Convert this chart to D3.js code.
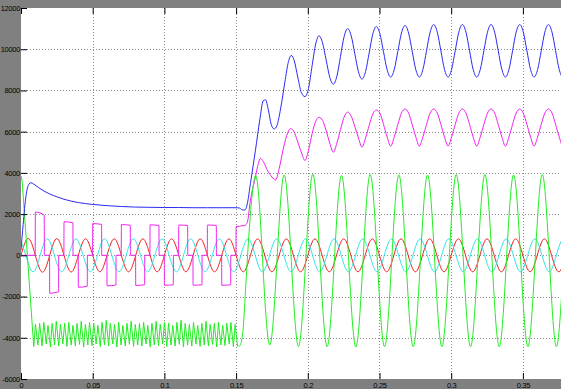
<!DOCTYPE html>
<html><head><meta charset="utf-8">
<script src="https://cdn.jsdelivr.net/npm/d3@7"></script>
<style>body{margin:0;background:#808080;} svg{display:block}</style>
</head><body>
<svg id="c" width="561" height="389"></svg>
<script>
// ---------- tick data ----------
const xTicks = [0, 0.05, 0.1, 0.15, 0.2, 0.25, 0.3, 0.35];
const xTickLabels = ["0", "0.05", "0.1", "0.15", "0.2", "0.25", "0.3", "0.35"];
const yTicks = [-6000, -4000, -2000, 0, 2000, 4000, 6000, 8000, 10000, 12000];
const yTickLabels = ["-6000", "-4000", "-2000", "0", "2000", "4000", "6000", "8000", "10000", "12000"];

// ---------- series data (time s, value) ----------
// red: sampled every 5 ms from t = 0
const redStart = 0, redDt = 0.005;
const redV = [0,820,0,-820, 0,810,0,-810, 0,800,0,-800, 0,800,0,-800, 0,800,0,-800,
  0,800,0,-800, 0,800,0,-800, 0,800,0,-800, 0,800,0,-800, 0,800,0,-800,
  0,800,0,-800, 0,800,0,-800, 0,800,0,-800, 0,800,0,-800, 0,800,0,-800,
  0,800,0,-800, 0,800,0,-800, 0,800,0,-800, 0,800,0,-800, 0];

// cyan: value at t=0, then sampled every 5 ms from 3.33 ms
const cyanFirst = [[0, 690]];
const cyanStart = 0.00333, cyanDt = 0.005;
const cyanV = [0,-800,0,800, 0,-800,0,800, 0,-800,0,800, 0,-800,0,800, 0,-800,0,800,
  0,-800,0,800, 0,-800,0,800, 0,-800,0,800, 0,-800,0,800, 0,-800,0,800,
  0,-800,0,800, 0,-800,0,800, 0,-800,0,800, 0,-800,0,800, 0,-800,0,800,
  0,-800,0,800, 0,-800,0,800, 0,-800,0,800, 0,-800,0,800, 0];

// blue
const blue = [
 [0,250],[0.0015,1500],[0.0035,2900],[0.0055,3450],[0.0068,3520],[0.009,3450],[0.012,3300],
 [0.016,3120],[0.02,2980],[0.025,2840],[0.03,2720],[0.035,2630],[0.04,2560],[0.045,2510],
 [0.05,2470],[0.06,2410],[0.07,2370],[0.08,2340],[0.09,2330],[0.1,2320],[0.11,2320],
 [0.12,2310],[0.13,2310],[0.14,2310],[0.15,2310],[0.1525,2290],[0.1545,2200],[0.1562,2200],
 [0.1578,2500],[0.160,3490],[0.1635,5100],[0.1665,6560],[0.1689,7500],[0.1705,7550],
 [0.1725,7050],[0.1745,6350],[0.1765,6130],[0.1785,6300],[0.181,7100],[0.184,8400],
 [0.1865,9400],[0.1885,9700],[0.1905,9450],[0.193,8650],[0.1955,7900],[0.198,7700],
 [0.2005,8100],[0.203,9200],[0.2055,10250],[0.2078,10650],
 [0.2103,10306],[0.2128,9475],[0.2153,8644],[0.2178,8300],
 [0.2203,8695],[0.2228,9650],[0.2253,10605],[0.2278,11000],
 [0.2303,10641],[0.2328,9775],[0.2353,8909],[0.2378,8550],
 [0.2403,8924],[0.2428,9825],[0.2453,10726],[0.2478,11100],
 [0.2503,10741],[0.2528,9875],[0.2553,9009],[0.2578,8650],
 [0.2603,9016],[0.2628,9900],[0.2653,10784],[0.2678,11150],
 [0.2703,10784],[0.2728,9900],[0.2753,9016],[0.2778,8650],
 [0.2803,9024],[0.2828,9925],[0.2853,10826],[0.2878,11200],
 [0.2903,10826],[0.2928,9925],[0.2953,9024],[0.2978,8650],
 [0.3003,9024],[0.3028,9925],[0.3053,10826],[0.3078,11200],
 [0.3103,10826],[0.3128,9925],[0.3153,9024],[0.3178,8650],
 [0.3203,9024],[0.3228,9925],[0.3253,10826],[0.3278,11200],
 [0.3303,10826],[0.3328,9925],[0.3353,9024],[0.3378,8650],
 [0.3403,9024],[0.3428,9925],[0.3453,10826],[0.3478,11200],
 [0.3503,10826],[0.3528,9925],[0.3553,9024],[0.3578,8650],
 [0.3603,9024],[0.3628,9925],[0.3653,10826],[0.3678,11200],
 [0.3703,10826],[0.3728,9925],[0.3753,9024],[0.3778,8650],[0.3803,9024]
];

// magenta
const magenta = [
 [0,0],[0.0099,0],[0.0100,2100],[0.0162,1950],[0.0163,0],[0.0199,0],[0.0200,-1840],[0.0262,-1770],[0.0263,0],
 [0.0299,0],[0.0300,1630],[0.0362,1580],[0.0363,0],[0.0399,0],[0.0400,-1550],[0.0462,-1500],[0.0463,0],
 [0.0499,0],[0.0500,1540],[0.0562,1500],[0.0563,0],[0.0599,0],[0.0600,-1480],[0.0662,-1440],[0.0663,0],
 [0.0699,0],[0.0700,1490],[0.0762,1460],[0.0763,0],[0.0799,0],[0.0800,-1460],[0.0862,-1430],[0.0863,0],
 [0.0899,0],[0.0900,1480],[0.0962,1450],[0.0963,0],[0.0999,0],[0.1000,-1450],[0.1062,-1430],[0.1063,0],
 [0.1099,0],[0.1100,1470],[0.1162,1450],[0.1163,0],[0.1199,0],[0.1200,-1450],[0.1262,-1430],[0.1263,0],
 [0.1299,0],[0.1300,1470],[0.1362,1450],[0.1363,0],[0.1399,0],[0.1400,-1450],[0.1462,-1430],[0.1463,0],
 [0.1499,0],[0.1500,1390],[0.1560,1450],[0.1578,1600],[0.160,2680],[0.1635,3810],[0.1655,4450],
 [0.167,4700],[0.169,4550],[0.172,4100],[0.175,3800],[0.1775,3650],[0.180,4200],[0.183,5200],
 [0.186,5950],[0.188,6150],[0.190,6050],[0.193,5500],[0.196,4900],[0.198,4600],[0.2005,5100],
 [0.203,5900],[0.2055,6500],[0.2078,6700],
 [0.2103,6550],[0.2128,6050],[0.2153,5450],[0.2178,5000],[0.2203,5450],[0.2228,6100],[0.2253,6700],[0.2278,6950],
 [0.2303,6750],[0.2328,6250],[0.2353,5700],[0.2378,5250],[0.2403,5700],[0.2428,6300],[0.2453,6850],[0.2478,7050],
 [0.2503,6900],[0.2528,6350],[0.2553,5750],[0.2578,5300],[0.2603,5750],[0.2628,6350],[0.2653,6900],[0.2678,7100],
 [0.2703,6900],[0.2728,6350],[0.2753,5750],[0.2778,5300],[0.2803,5750],[0.2828,6350],[0.2853,6900],[0.2878,7100],
 [0.2903,6900],[0.2928,6350],[0.2953,5750],[0.2978,5300],[0.3003,5750],[0.3028,6350],[0.3053,6900],[0.3078,7100],
 [0.3103,6900],[0.3128,6350],[0.3153,5750],[0.3178,5300],[0.3203,5750],[0.3228,6350],[0.3253,6900],[0.3278,7100],
 [0.3303,6900],[0.3328,6350],[0.3353,5750],[0.3378,5300],[0.3403,5750],[0.3428,6350],[0.3453,6900],[0.3478,7100],
 [0.3503,6900],[0.3528,6350],[0.3553,5750],[0.3578,5300],[0.3603,5750],[0.3628,6350],[0.3653,6900],[0.3678,7100],
 [0.3703,6900],[0.3728,6350],[0.3753,5750],[0.3778,5300],[0.3803,5750]
];

// green: initial drop, chatter tips, then 50 Hz oscillation
const greenDrop = [[0,3850],[0.0008,3600],[0.0089,-4430]];
const chatterStart = 0.0089, chatterStep = 0.0029, chatterRise = 0.0012;
const chatterLow = [-4430,-4350,-4400,-4300,-4450,-4350,-4400,-4300,-4420,-4350,-4400,-4320,-4450,-4350,-4380,
  -4300,-4430,-4350,-4400,-4300,-4450,-4350,-4400,-4320,-4420,-4350,-4400,-4300,-4450,-4350,-4380,-4300,
  -4430,-4350,-4400,-4320,-4450,-4350,-4400,-4300,-4420,-4350,-4400,-4320,-4450,-4350,-4380,-4300,-4430,-4400];
const chatterHigh = [-3350,-3300,-3250,-3400,-3300,-3200,-3350,-3300,-3250,-3400,-3300,-3200,-3350,-3250,-3300,
  -3400,-3250,-3150,-3300,-3350,-3250,-3400,-3300,-3200,-3350,-3300,-3250,-3400,-3300,-3200,-3350,-3250,
  -3300,-3400,-3250,-3150,-3300,-3350,-3250,-3400,-3300,-3200,-3350,-3300,-3250,-3400,-3300,-3250,-3350];
const greenOnset = [[0.1512,-4400],[0.1535,-4250],[0.1555,-3000],[0.158,0]];
const greenSineStart = 0.1635, greenSineDt = 0.005;
const greenSineV = [3850,-250,-4350,-260, 3900,-260,-4420,-265, 3940,-265,-4430,-265, 3880,-265,-4450,-265,
  3920,-265,-4430,-265, 3900,-265,-4430,-265, 3900,-265,-4430,-265, 3920,-265,-4430,-265,
  3920,-265,-4430,-265, 3900,-265,-4430,-265, 3920,-265,-4430,-265, 3900];

// ---------- build ----------
const uniform = (start, dt, vals) => vals.map((v, i) => [start + i * dt, v]);
const redData = uniform(redStart, redDt, redV);
const cyanData = cyanFirst.concat(uniform(cyanStart, cyanDt, cyanV));
const chatter = [];
chatterLow.forEach((lo, i) => {
  const t = chatterStart + i * chatterStep;
  chatter.push([t, lo]);
  if (i < chatterHigh.length) chatter.push([t + chatterRise, chatterHigh[i]]);
});
const greenA = greenDrop.concat(chatter.slice(1));
const greenB = [greenA[greenA.length - 1]].concat(greenOnset, uniform(greenSineStart, greenSineDt, greenSineV));

const W = 561, H = 389;
const L = 21, R = 561, T = 8, B = 379;
const x = d3.scaleLinear().domain([0, 0.37657]).range([L, R]);
const y = d3.scaleLinear().domain([-6000, 12000]).range([B, T]);

const svg = d3.select("#c");
svg.append("rect").attr("width", W).attr("height", H).attr("fill", "#808080");
svg.append("rect").attr("x", L).attr("y", T).attr("width", R - L).attr("height", B - T).attr("fill", "#ffffff");

svg.append("defs").append("clipPath").attr("id", "clip")
  .append("rect").attr("x", L).attr("y", T).attr("width", R - L).attr("height", B - T);

// grid
const grid = svg.append("g").attr("stroke", "#8c8c8c").attr("stroke-width", 1).attr("stroke-dasharray", "1,2");
grid.selectAll("line.v").data(xTicks.slice(1)).join("line").attr("class", "v")
  .attr("x1", d => Math.round(x(d)) + 0.5).attr("x2", d => Math.round(x(d)) + 0.5)
  .attr("y1", T).attr("y2", B);
grid.selectAll("line.h").data(yTicks.slice(1, -1)).join("line").attr("class", "h")
  .attr("y1", d => Math.round(y(d)) + 0.5).attr("y2", d => Math.round(y(d)) + 0.5)
  .attr("x1", L).attr("x2", R);

// series
const plot = svg.append("g").attr("clip-path", "url(#clip)").attr("fill", "none").attr("stroke-width", 1);
const lineNat = d3.line().x(d => x(d[0])).y(d => y(d[1])).curve(d3.curveNatural);
const lineMono = d3.line().x(d => x(d[0])).y(d => y(d[1])).curve(d3.curveMonotoneX);
const lineLin = d3.line().x(d => x(d[0])).y(d => y(d[1]));

plot.append("path").attr("d", lineNat(redData)).attr("stroke", "#f02020");
plot.append("path").attr("d", lineNat(cyanData)).attr("stroke", "#30e6e6");
plot.append("path").attr("d", lineMono(magenta)).attr("stroke", "#f020f0");
plot.append("path").attr("d", lineLin(greenA)).attr("stroke", "#20ee20");
plot.append("path").attr("d", lineNat(greenB)).attr("stroke", "#20ee20");
plot.append("path").attr("d", lineMono(blue)).attr("stroke", "#2a2af5");

// axes
const fontStyle = g => g.attr("font-family", "Liberation Sans, Arial, sans-serif").attr("font-size", 7.5);
const ax = svg.append("g").attr("transform", `translate(0,${B})`)
  .call(d3.axisBottom(x).tickValues(xTicks).tickFormat((d, i) => xTickLabels[i]).tickSize(-6).tickPadding(3.5))
  .call(fontStyle);
const ay = svg.append("g").attr("transform", `translate(${L},0)`)
  .call(d3.axisLeft(y).tickValues(yTicks).tickFormat((d, i) => yTickLabels[i]).tickSize(-6).tickPadding(1))
  .call(fontStyle);
const at = svg.append("g").attr("transform", `translate(0,${T})`)
  .call(d3.axisTop(x).tickValues(xTicks).tickFormat("").tickSize(-6));
[ax, ay, at].forEach(g => {
  g.select(".domain").remove();
  g.selectAll(".tick line").attr("stroke", "#000");
  g.selectAll(".tick text").attr("fill", "#000").attr("letter-spacing", "-0.3");
});
</script>
</body></html>
